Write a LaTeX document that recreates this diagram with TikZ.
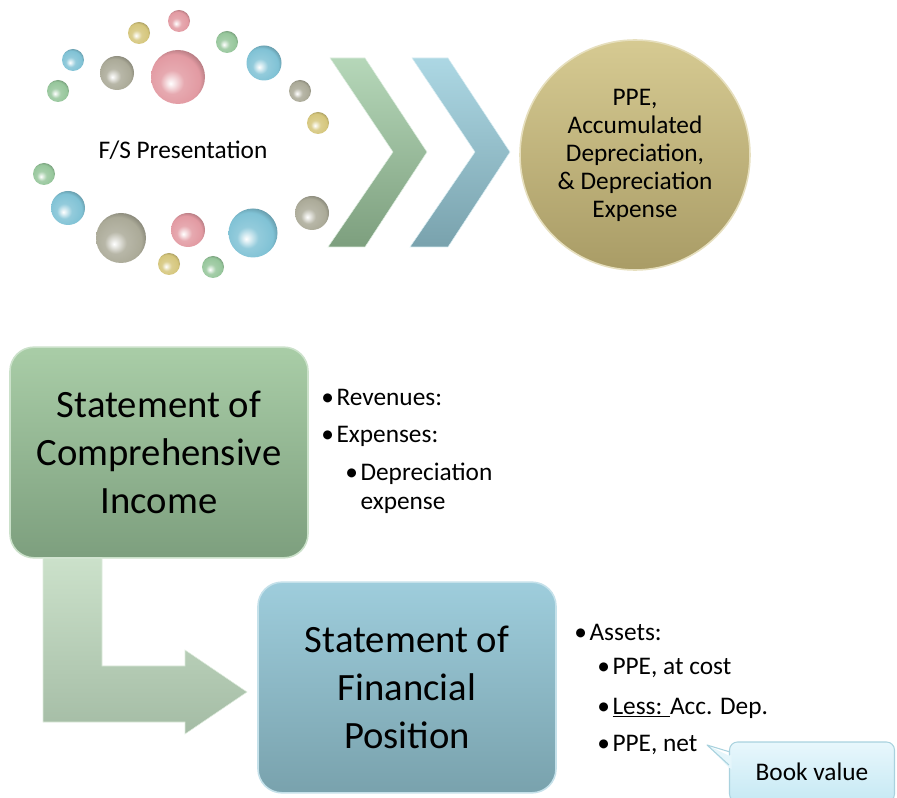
\documentclass[tikz,border=0pt]{standalone}
\usepackage{fontspec}
\setmainfont{Carlito}
\usetikzlibrary{positioning}

\definecolor{ballpink}{HTML}{E29AA2}
\definecolor{ballgray}{HTML}{ABAA98}
\definecolor{ballblue}{HTML}{80C2D5}
\definecolor{ballgreen}{HTML}{96C69B}
\definecolor{ballyellow}{HTML}{D5C67C}
\definecolor{cigreentop}{HTML}{A9CDA7}
\definecolor{cigreenbot}{HTML}{7D9F7E}
\definecolor{fpbluetop}{HTML}{9ECDDC}
\definecolor{fpbluebot}{HTML}{79A2AD}
\definecolor{goldtop}{HTML}{D6CA92}
\definecolor{goldbot}{HTML}{A99C66}
\definecolor{calltop}{HTML}{E8F7FC}
\definecolor{callbot}{HTML}{C6E9F4}
\definecolor{calledge}{HTML}{A9D2DE}
\colorlet{bubcol}{ballpink}

% glossy bubble, highlight low on the left
\pgfdeclareradialshading[bubcol]{bubbly}{\pgfpoint{-7bp}{-6bp}}{color(0bp)=(white); color(4bp)=(bubcol!30!white); color(11bp)=(bubcol!85!white); color(24bp)=(bubcol); color(31bp)=(bubcol!72!black); color(50bp)=(bubcol!72!black)}

\tikzset{
    statebox/.style = {rounded corners=18pt, minimum width=223.5pt, minimum height=158pt, align=center, font=\fontsize{29}{36}\selectfont, line width=1.2pt},
    bulletline/.style = {anchor=west, inner sep=0pt, align=left, font=\fontsize{19}{22}\selectfont},
    bubble/.style = {/utils/exec={\colorlet{bubcol}{#1}}, shading=bubbly}
}

\begin{document}
\begin{tikzpicture}[x=0.75pt, y=-0.75pt]
    \useasboundingbox (0,0) rectangle (897,798);

    % ring of bubbles
    \shade[bubble=ballpink] (179,21) circle (11);
    \shade[bubble=ballyellow] (139,33) circle (11);
    \shade[bubble=ballgreen] (227,42) circle (11);
    \shade[bubble=ballblue] (73,60) circle (11);
    \shade[bubble=ballgray] (117,73) circle (17);
    \shade[bubble=ballpink] (178,77) circle (27);
    \shade[bubble=ballblue] (264,63) circle (17.5);
    \shade[bubble=ballgreen] (58,91) circle (11);
    \shade[bubble=ballgray] (300,91) circle (11);
    \shade[bubble=ballyellow] (318,123) circle (11);
    \shade[bubble=ballgreen] (44,174) circle (11);
    \shade[bubble=ballblue] (68,208) circle (17);
    \shade[bubble=ballgray] (312,213) circle (17);
    \shade[bubble=ballgray] (121,238) circle (25);
    \shade[bubble=ballpink] (188,230) circle (17);
    \shade[bubble=ballblue] (253,233) circle (24.5);
    \shade[bubble=ballyellow] (169,264) circle (11);
    \shade[bubble=ballgreen] (213,267) circle (11);
    \node[font=\fontsize{19}{22}\selectfont] (fs) at (183,150) {F/S Presentation};

    % chevrons
    \shade[top color=ballgreen!70!white, bottom color=cigreenbot, draw=white!70!ballgreen] (330,58) -- (365,58) -- (427,152) -- (365,247) -- (328,247) -- (393,152) -- cycle;
    \shade[top color=ballblue!65!white, bottom color=fpbluebot, draw=white!70!ballblue] (412,58) -- (448,58) -- (510,152) -- (448,247) -- (410,247) -- (475,152) -- cycle;

    \node[circle, minimum size=172.5pt, top color=goldtop, bottom color=goldbot, draw=goldtop!60!white, line width=1.2pt, align=center, font=\fontsize{19}{21}\selectfont] (ppe) at (635,155) {PPE,\\Accumulated\\Depreciation,\\\& Depreciation\\Expense};

    % statements
    \node[statebox, top color=cigreentop, bottom color=cigreenbot, draw=cigreentop!60!white] (ci) at (159,452.5) {Statement of\\Comprehensive\\Income};
    \node[statebox, top color=fpbluetop, bottom color=fpbluebot, draw=fpbluetop!60!white] (fp) at (407,687.5) {Statement of\\Financial\\Position};

    \shade[top color=cigreentop!60!white, bottom color=cigreenbot!70!white, draw=white!60!cigreentop] (43,558) -- (102,558) -- (102,666) -- (185,666) -- (185,650) -- (247,692) -- (185,734) -- (185,722) -- (43,722) -- cycle;

    \node[bulletline] (rev) at (321,397) {\textbullet\hspace{2pt}Revenues:};
    \node[bulletline] (exp) at (321,436) {\textbullet\hspace{2pt}Expenses:};
    \node[bulletline] (dep) at (345,488.5) {\textbullet\hspace{2pt}Depreciation\\\phantom{\textbullet\hspace{2pt}}expense};

    \node[bulletline] (ass) at (574,632) {\textbullet\hspace{2pt}Assets:};
    \node[bulletline] (pcost) at (597,668) {\textbullet\hspace{2pt}PPE, at cost};
    \node[bulletline] (pless) at (597,708) {\textbullet\hspace{2pt}\underline{Less: }Acc. Dep.};
    \node[bulletline] (pnet) at (597,745) {\textbullet\hspace{2pt}PPE, net};

    % callout
    \node[rounded corners=6pt, minimum width=123.75pt, minimum height=45pt, top color=calltop, bottom color=callbot, draw=calledge, line width=0.8pt, font=\fontsize{19}{22}\selectfont] (book) at (812,772) {Book value};
    \coordinate (tip) at ([xshift=7pt]pnet.east);
    \fill[calltop!92!callbot] ([yshift=-8pt]book.west |- tip) -- (tip) -- ([yshift=-17pt]book.west |- tip) -- ([xshift=2pt,yshift=-18pt]book.west |- tip) -- ([xshift=2pt,yshift=-7pt]book.west |- tip) -- cycle;
    \draw[calledge, line width=0.8pt, line join=round] ([yshift=-5pt]book.west |- tip) -- (tip) -- ([yshift=-15pt]book.west |- tip);
\end{tikzpicture}
\end{document}
